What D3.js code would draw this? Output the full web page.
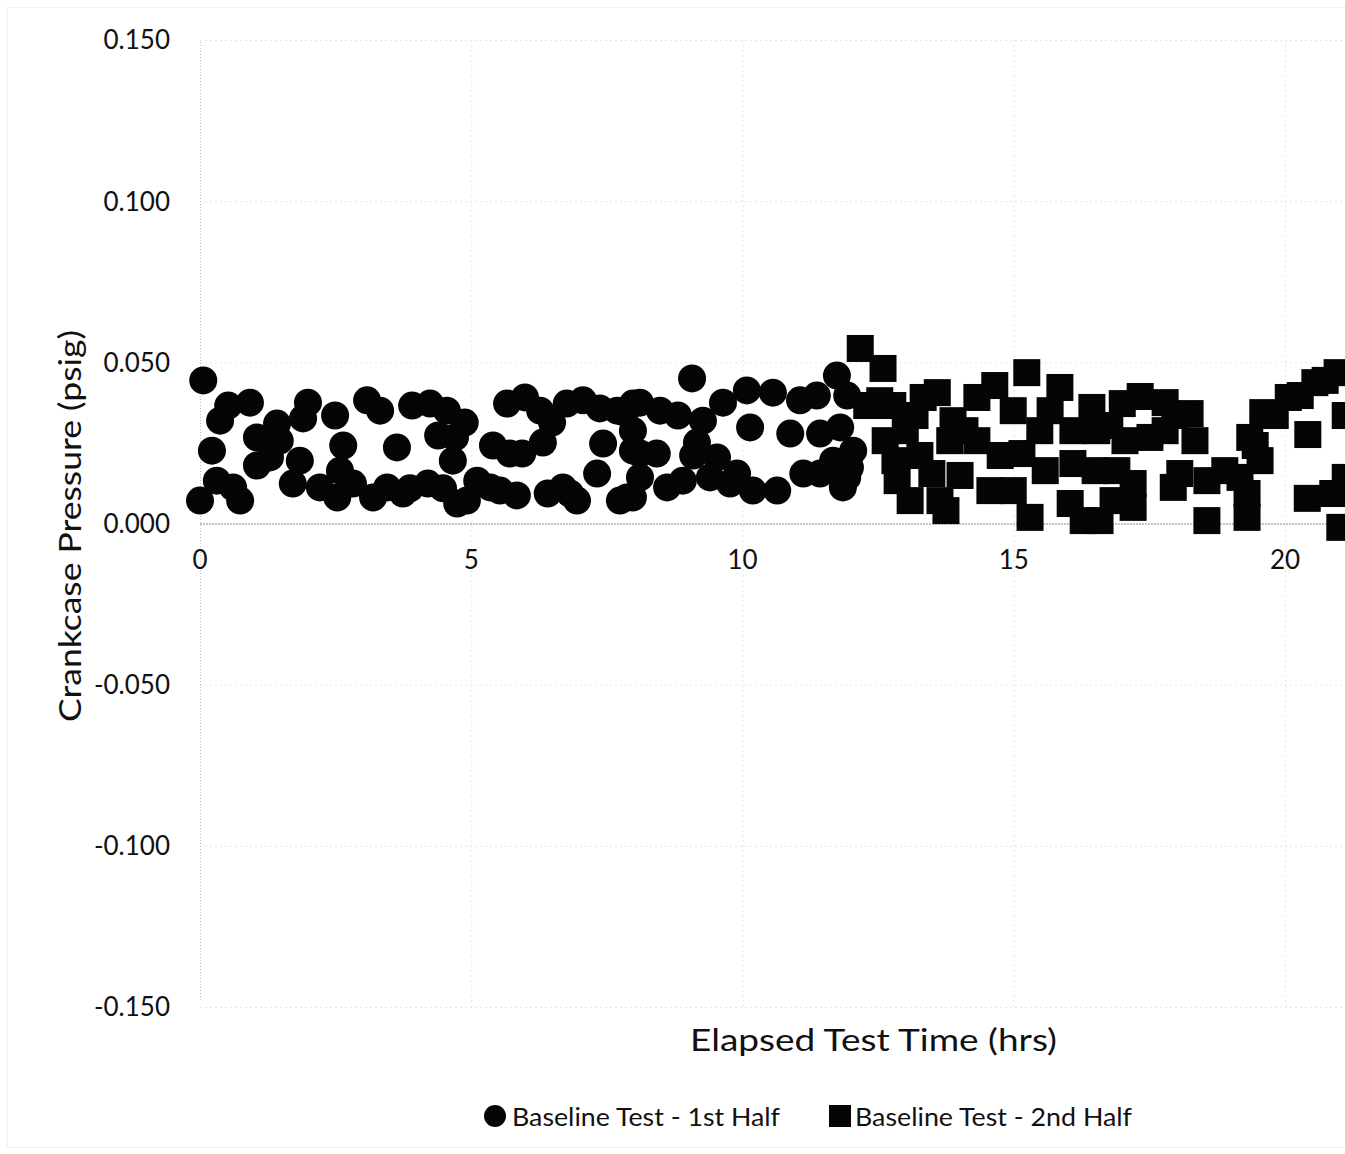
<!DOCTYPE html>
<html>
<head>
<meta charset="utf-8">
<script src="https://cdn.jsdelivr.net/npm/d3@7"></script>
<style>
  html, body { margin: 0; padding: 0; background: #fff; }
  svg { display: block; font-family: Lato, "Open Sans", sans-serif; }
</style>
</head>
<body>
<svg id="chart" width="1345" height="1154"></svg>
<script>
// Crankcase pressure readings, baseline test (first half: circles)
const hours1 = [0.06, 0.00, 0.22, 0.31, 0.37, 0.52, 0.92, 0.74, 0.61, 1.05,
  1.42, 1.47, 1.05, 1.29, 1.71, 1.84, 1.99, 1.90, 2.49, 2.64,
  2.58, 2.21, 2.53, 2.82, 3.08, 3.32, 3.63, 3.19, 3.45, 3.74,
  3.91, 4.24, 4.55, 4.88, 4.39, 4.70, 4.66, 3.87, 4.20, 4.48,
  4.74, 5.11, 5.35, 5.53, 5.84, 4.92, 5.66, 5.99, 6.27, 6.49,
  6.32, 5.40, 5.71, 5.94, 6.41, 6.69, 6.95, 6.82, 6.76, 7.06,
  7.37, 7.69, 7.98, 7.43, 7.32, 7.74, 7.98, 7.98, 9.07, 11.74,
  8.11, 8.48, 8.81, 7.83, 7.98, 9.64, 10.08, 10.56, 11.06, 11.37,
  11.93, 9.27, 10.14, 10.88, 11.43, 11.80, 8.11, 8.42, 9.09, 9.53,
  9.16, 8.11, 8.61, 7.87, 8.90, 9.40, 9.90, 9.77, 10.19, 10.64,
  11.12, 11.43, 11.67, 11.93, 12.04, 11.98, 11.85];
const psig1 = [0.0444, 0.0071, 0.0226, 0.0133, 0.0319, 0.0366, 0.0375, 0.0071, 0.0112, 0.0267,
  0.0310, 0.0257, 0.0180, 0.0205, 0.0124, 0.0195, 0.0375, 0.0326, 0.0335, 0.0242,
  0.0164, 0.0112, 0.0081, 0.0124, 0.0382, 0.0350, 0.0236, 0.0081, 0.0112, 0.0093,
  0.0366, 0.0372, 0.0350, 0.0313, 0.0273, 0.0267, 0.0195, 0.0109, 0.0124, 0.0109,
  0.0062, 0.0133, 0.0112, 0.0102, 0.0087, 0.0071, 0.0372, 0.0391, 0.0350, 0.0313,
  0.0251, 0.0242, 0.0217, 0.0217, 0.0093, 0.0112, 0.0071, 0.0093, 0.0372, 0.0382,
  0.0357, 0.0350, 0.0372, 0.0248, 0.0155, 0.0071, 0.0226, 0.0081, 0.0450, 0.0459,
  0.0375, 0.0350, 0.0335, 0.0344, 0.0288, 0.0375, 0.0413, 0.0406, 0.0382, 0.0397,
  0.0397, 0.0319, 0.0298, 0.0279, 0.0279, 0.0298, 0.0217, 0.0217, 0.0211, 0.0205,
  0.0251, 0.0143, 0.0112, 0.0081, 0.0133, 0.0143, 0.0155, 0.0124, 0.0102, 0.0102,
  0.0155, 0.0155, 0.0195, 0.0143, 0.0226, 0.0174, 0.0112];

// Baseline test, second half (squares)
const hours2 = [12.17, 12.59, 13.59, 13.33, 12.29, 12.77, 13.00, 12.81, 12.85, 13.09,
  13.49, 13.64, 13.75, 13.88, 14.32, 13.82, 14.32, 14.65, 14.99, 15.24,
  15.15, 15.48, 15.85, 16.09, 16.09, 14.56, 14.99, 15.30, 16.04, 16.28,
  16.44, 17.00, 17.33, 17.79, 18.25, 18.34, 17.51, 16.53, 16.50, 16.90,
  17.20, 16.83, 17.20, 16.59, 17.94, 18.06, 18.56, 18.56, 19.17, 19.30,
  19.30, 19.59, 20.06, 20.55, 20.96, 19.35, 19.54, 20.42, 21.11, 20.41,
  20.88, 21.01, 21.11, 12.53, 13.18, 12.63, 13.27, 14.01, 14.10, 14.75,
  15.67, 15.58, 16.77, 17.79, 17.97, 17.05, 18.89, 19.45, 19.82, 20.28,
  20.74];
const psig2 = [0.0543, 0.0481, 0.0406, 0.0391, 0.0366, 0.0366, 0.0288, 0.0195, 0.0133, 0.0071,
  0.0155, 0.0071, 0.0040, 0.0319, 0.0257, 0.0257, 0.0391, 0.0428, 0.0350, 0.0468,
  0.0217, 0.0288, 0.0422, 0.0288, 0.0186, 0.0102, 0.0102, 0.0019, 0.0062, 0.0009,
  0.0360, 0.0372, 0.0394, 0.0375, 0.0341, 0.0257, 0.0267, 0.0288, 0.0164, 0.0164,
  0.0124, 0.0071, 0.0050, 0.0009, 0.0112, 0.0155, 0.0133, 0.0009, 0.0143, 0.0019,
  0.0093, 0.0344, 0.0391, 0.0437, 0.0468, 0.0267, 0.0195, 0.0276, 0.0335, 0.0078,
  0.0093, -0.0012, 0.0143, 0.0381, 0.0335, 0.0257, 0.0211, 0.0149, 0.0288, 0.0211,
  0.0350, 0.0164, 0.0304, 0.0288, 0.0335, 0.0257, 0.0164, 0.0242, 0.0335, 0.0397,
  0.0444];

const xTicks = [0, 5, 10, 15, 20];
const yTicks = [0.15, 0.10, 0.05, 0.00, -0.05, -0.10, -0.15];
const seriesNames = ["Baseline Test - 1st Half", "Baseline Test - 2nd Half"];
const xTitle = "Elapsed Test Time (hrs)";
const yTitle = "Crankcase Pressure (psig)";

const svg = d3.select("#chart");

const x = d3.scaleLinear().domain([0, 21.1]).range([200, 1344.7]);
const y = d3.scaleLinear().domain([-0.15, 0.15]).range([1007, 40]);

// faint outer frame
svg.append("rect")
  .attr("x", 7.5).attr("y", 7.5)
  .attr("width", 1345).attr("height", 1140)
  .attr("fill", "none")
  .attr("stroke", "#e4e4e4")
  .attr("stroke-dasharray", "2,2");

// horizontal gridlines
svg.append("g")
  .selectAll("line")
  .data(yTicks.filter(v => v !== 0))
  .join("line")
  .attr("x1", x(0)).attr("x2", 1345)
  .attr("y1", d => y(d) + 0.5).attr("y2", d => y(d) + 0.5)
  .attr("stroke", "#e6e6e6")
  .attr("stroke-dasharray", "2,3");

// vertical gridlines
svg.append("g")
  .selectAll("line")
  .data(xTicks.filter(v => v !== 0))
  .join("line")
  .attr("x1", d => x(d) + 0.5).attr("x2", d => x(d) + 0.5)
  .attr("y1", y(0.15)).attr("y2", y(-0.15))
  .attr("stroke", "#e6e6e6")
  .attr("stroke-dasharray", "2,3");

// y axis line
svg.append("line")
  .attr("x1", x(0) + 0.5).attr("x2", x(0) + 0.5)
  .attr("y1", y(0.15) + 2).attr("y2", y(-0.15) - 6)
  .attr("stroke", "#bdbdbd")
  .attr("stroke-dasharray", "1,2");

// x axis line at zero
svg.append("line")
  .attr("x1", x(0)).attr("x2", 1345)
  .attr("y1", y(0) + 0.5).attr("y2", y(0) + 0.5)
  .attr("stroke", "#8a8a8a")
  .attr("stroke-dasharray", "2,1");

// y tick labels
svg.append("g")
  .selectAll("text")
  .data(yTicks)
  .join("text")
  .attr("x", 170)
  .attr("y", d => y(d))
  .attr("dy", "0.36em")
  .attr("text-anchor", "end")
  .attr("font-size", 26)
  .attr("fill", "#111")
  .text(d => d3.format(".3f")(d).replace("−", "-"));

// x tick labels
svg.append("g")
  .selectAll("text")
  .data(xTicks)
  .join("text")
  .attr("x", d => x(d))
  .attr("y", 569)
  .attr("text-anchor", "middle")
  .attr("font-size", 26)
  .attr("fill", "#111")
  .text(d => d);

// axis titles
svg.append("text")
  .attr("x", 690).attr("y", 1051)
  .attr("font-size", 31)
  .attr("textLength", 367)
  .attr("lengthAdjust", "spacingAndGlyphs")
  .attr("fill", "#111")
  .text(xTitle);

svg.append("text")
  .attr("transform", "translate(81,526) rotate(-90)")
  .attr("text-anchor", "middle")
  .attr("font-size", 31)
  .attr("textLength", 392)
  .attr("lengthAdjust", "spacingAndGlyphs")
  .attr("fill", "#111")
  .text(yTitle);

// first half: circles
svg.append("g")
  .selectAll("circle")
  .data(d3.zip(hours1, psig1))
  .join("circle")
  .attr("cx", d => x(d[0]))
  .attr("cy", d => y(d[1]))
  .attr("r", 14)
  .attr("fill", "#050505");

// second half: squares
const sq = 27;
svg.append("g")
  .selectAll("rect")
  .data(d3.zip(hours2, psig2))
  .join("rect")
  .attr("x", d => x(d[0]) - sq / 2)
  .attr("y", d => y(d[1]) - sq / 2)
  .attr("width", sq).attr("height", sq)
  .attr("fill", "#050505");

// legend
const legend = svg.append("g").attr("font-size", 25).attr("fill", "#111");
legend.append("circle").attr("cx", 495).attr("cy", 1116).attr("r", 11).attr("fill", "#050505");
legend.append("text").attr("x", 512).attr("y", 1126)
  .attr("textLength", 268).attr("lengthAdjust", "spacingAndGlyphs")
  .text(seriesNames[0]);
legend.append("rect").attr("x", 829).attr("y", 1105).attr("width", 22).attr("height", 22).attr("fill", "#050505");
legend.append("text").attr("x", 855).attr("y", 1126)
  .attr("textLength", 277).attr("lengthAdjust", "spacingAndGlyphs")
  .text(seriesNames[1]);
</script>
</body>
</html>
